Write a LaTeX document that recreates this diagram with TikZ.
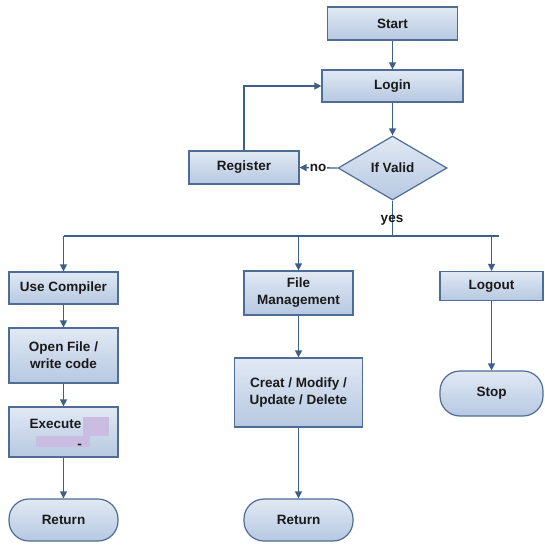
\documentclass[tikz,border=0pt]{standalone}
\usepackage{fontspec}
\setmainfont{Liberation Sans}
\usetikzlibrary{shapes.geometric,arrows.meta}
\definecolor{bordc}{HTML}{4F6D94}
\definecolor{arrc}{HTML}{3E5F88}
\definecolor{topc}{HTML}{E1E9F4}
\definecolor{botc}{HTML}{B6C8E1}
\definecolor{redact}{HTML}{CBBCE2}
\definecolor{txtc}{HTML}{1A1A1A}
\tikzset{
  x=1pt,y=-1pt,
  base/.style={draw=bordc,line width=1.2pt,top color=topc,bottom color=botc,
    inner sep=0pt,font=\fontsize{13.5}{17}\selectfont\bfseries,text=txtc,align=center},
  boxn/.style={base,rectangle},
  termn/.style={base,rectangle,rounded corners=20pt},
  decn/.style={base,diamond,aspect=1.7},
  conn/.style={draw=arrc,line width=1.3pt,-{Triangle[length=7pt,width=7pt]}},
  plainc/.style={draw=arrc,line width=1.3pt},
  lbl/.style={font=\fontsize{13.5}{17}\selectfont\bfseries,text=txtc,inner sep=0pt},
}
\begin{document}
\begin{tikzpicture}
\useasboundingbox (0,0) rectangle (545,544);
\fill[white] (0,0) rectangle (545,544);

\node[boxn,minimum width=130pt,minimum height=33pt] (start) at (392.5,23.5) {Start};
\node[boxn,minimum width=141pt,minimum height=32pt] (login) at (392.5,86) {Login};
\node[decn,minimum width=109pt,minimum height=64pt] (valid) at (392.5,168) {If Valid};
\node[boxn,minimum width=110pt,minimum height=33pt] (reg) at (244,167.5) {Register};

\node[boxn,minimum width=109pt,minimum height=32pt] (uc) at (63.5,288) {Use Compiler};
\node[boxn,minimum width=109pt,minimum height=55pt] (of) at (63.5,355.5) {Open File /\\write code};
\node[boxn,minimum width=109pt,minimum height=50pt] (exe) at (63.5,432) {};
\node[termn,minimum width=109pt,minimum height=42pt] (ret1) at (63.5,520) {Return};

\node[boxn,minimum width=109pt,minimum height=44pt] (fm) at (298.5,293) {File\\Management};
\node[boxn,minimum width=128pt,minimum height=69pt] (cm) at (298.5,392.5) {Creat / Modify /\\Update / Delete};
\node[termn,minimum width=109pt,minimum height=42pt] (ret2) at (298.5,520) {Return};

\node[boxn,minimum width=103pt,minimum height=29pt] (lo) at (491.5,286) {Logout};
\node[termn,minimum width=103pt,minimum height=45pt] (stop) at (491.5,393.5) {Stop};

% Execute contents
\fill[redact] (83,417) rectangle (109,436);
\fill[redact] (36,436) rectangle (90,447);
\node[lbl,anchor=west] (exet) at (29.5,424) {Execute};
\node[lbl] (dash) at (79.5,446) {-};

% connectors
\draw[conn] (start) -- (login);
\draw[conn] (login) -- (valid);
\draw[conn] (valid.west) -- (reg.east);
\node[lbl,fill=white,inner sep=0.5pt] (no) at (318,168) {no};
\draw[conn] (reg.north) |- (login.west);

\coordinate (bus) at (392.5,236);
\coordinate (busL) at (63.5,236);
\coordinate (busR) at (499,236);
\draw[plainc] (valid.south) -- (bus);
\node[lbl] (yes) at (392,220) {yes};
\draw[plainc] (busL) -- (busR);
\draw[conn] (busL) -- (uc.north);
\draw[conn] (fm.north |- bus) -- (fm.north);
\draw[conn] (lo.north |- bus) -- (lo.north);

\draw[conn] (uc) -- (of);
\draw[conn] (of) -- (exe);
\draw[conn] (exe) -- (ret1);
\draw[conn] (fm) -- (cm);
\draw[conn] (cm) -- (ret2);
\draw[conn] (lo) -- (stop);
\end{tikzpicture}
\end{document}
